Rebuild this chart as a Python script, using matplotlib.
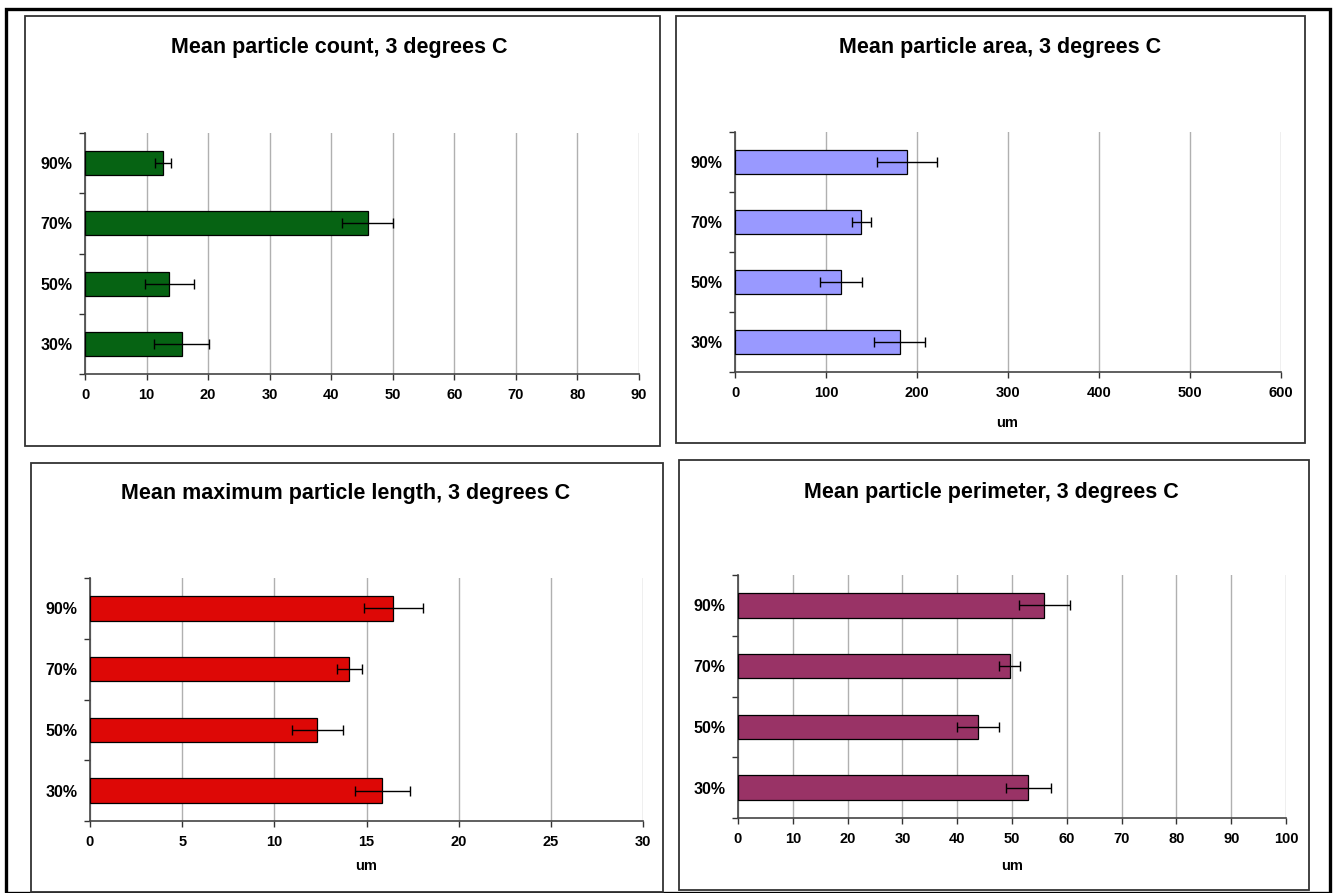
import matplotlib
matplotlib.use("Agg")
import matplotlib.pyplot as plt
from matplotlib.patches import Rectangle
import numpy as np

plt.rcParams["font.family"] = ["Liberation Sans", "DejaVu Sans"]
plt.rcParams["font.weight"] = "bold"

W, H = 1335, 893

humidity = ["30%", "50%", "70%", "90%"]

count_mean = [15.7, 13.7, 45.9, 12.7]
count_err = [4.45, 3.95, 4.1, 1.25]

area_mean = [180.9, 116.5, 138.8, 189.3]
area_err = [28.0, 23.0, 10.5, 33.0]

length_mean = [15.85, 12.33, 14.06, 16.45]
length_err = [1.49, 1.37, 0.68, 1.6]

perim_mean = [53.0, 43.8, 49.6, 55.9]
perim_err = [4.05, 3.85, 1.95, 4.7]

panels = [
    # title, means, errs, colour, xmax, xstep, xlabel, frame box, axes box, title pos, xlabel pos
    ("Mean particle count, 3 degrees C", count_mean, count_err, "#066313", 90, 10, None,
     (25, 16, 660, 446), (85, 133, 639, 374), (339, 47), None),
    ("Mean particle area, 3 degrees C", area_mean, area_err, "#9999FF", 600, 100, "um",
     (676, 16, 1305, 443), (735, 132, 1281, 372), (1000, 47), (1007, 423)),
    ("Mean maximum particle length, 3 degrees C", length_mean, length_err, "#DD0806", 30, 5, "um",
     (31, 463, 663, 892), (90, 578, 643, 821), (346, 494), (366, 866)),
    ("Mean particle perimeter, 3 degrees C", perim_mean, perim_err, "#993366", 100, 10, "um",
     (679, 460, 1309, 890), (738, 575, 1286, 818), (991, 492), (1012, 866)),
]


def fig_box(x0, y0, x1, y1):
    return [x0 / W, 1 - y1 / H, (x1 - x0) / W, (y1 - y0) / H]


fig = plt.figure(figsize=(W / 100, H / 100), dpi=100)

# outer frame around the whole sheet
fig.add_artist(Rectangle((6 / W, 0), (1330 - 6) / W, 1 - 9 / H, transform=fig.transFigure,
                         fill=False, edgecolor="black", linewidth=2.4))

y = np.arange(len(humidity))
for title, means, errs, colour, xmax, xstep, xlabel, frame, box, tpos, lpos in panels:
    fx0, fy0, fx1, fy1 = frame
    fig.add_artist(Rectangle((fx0 / W, 1 - fy1 / H), (fx1 - fx0) / W, (fy1 - fy0) / H,
                             transform=fig.transFigure, fill=False,
                             edgecolor="#333333", linewidth=1.3))

    ax = fig.add_axes(fig_box(*box))
    ax.barh(y, means, height=0.4, color=colour, edgecolor="black", linewidth=0.9, zorder=3)
    ax.errorbar(means, y, xerr=errs, fmt="none", ecolor="black", elinewidth=1.0,
                capsize=3.5, capthick=1.0, zorder=4)

    ax.set_xlim(0, xmax)
    ax.set_ylim(-0.5, len(humidity) - 0.5)
    ax.set_xticks(np.arange(0, xmax + xstep / 2, xstep))
    ax.set_yticks(y)
    ax.set_yticklabels(humidity)
    ax.set_yticks(np.arange(-0.5, len(humidity), 1.0), minor=True)
    ax.tick_params(axis="y", which="major", length=0, pad=9, labelsize=11.5)
    ax.tick_params(axis="y", which="minor", length=4.5, width=1.0, color="#333333")
    ax.tick_params(axis="x", length=4, width=1.0, color="#333333", pad=6, labelsize=10.5)
    for lbl in ax.get_xticklabels() + ax.get_yticklabels():
        lbl.set_fontweight("bold")

    ax.grid(axis="x", color="#B0B0B0", linewidth=1.0, zorder=0)
    ax.set_axisbelow(True)
    for side in ("top", "right"):
        ax.spines[side].set_visible(False)
    for side in ("left", "bottom"):
        ax.spines[side].set_color("#444444")
        ax.spines[side].set_linewidth(1.2)

    fig.text(tpos[0] / W, 1 - tpos[1] / H, title, ha="center", va="center",
             fontsize=15.5, fontweight="bold")
    if xlabel:
        fig.text(lpos[0] / W, 1 - lpos[1] / H, xlabel, ha="center", va="center",
                 fontsize=10.5, fontweight="bold")

fig.savefig("out.png", dpi=100)
